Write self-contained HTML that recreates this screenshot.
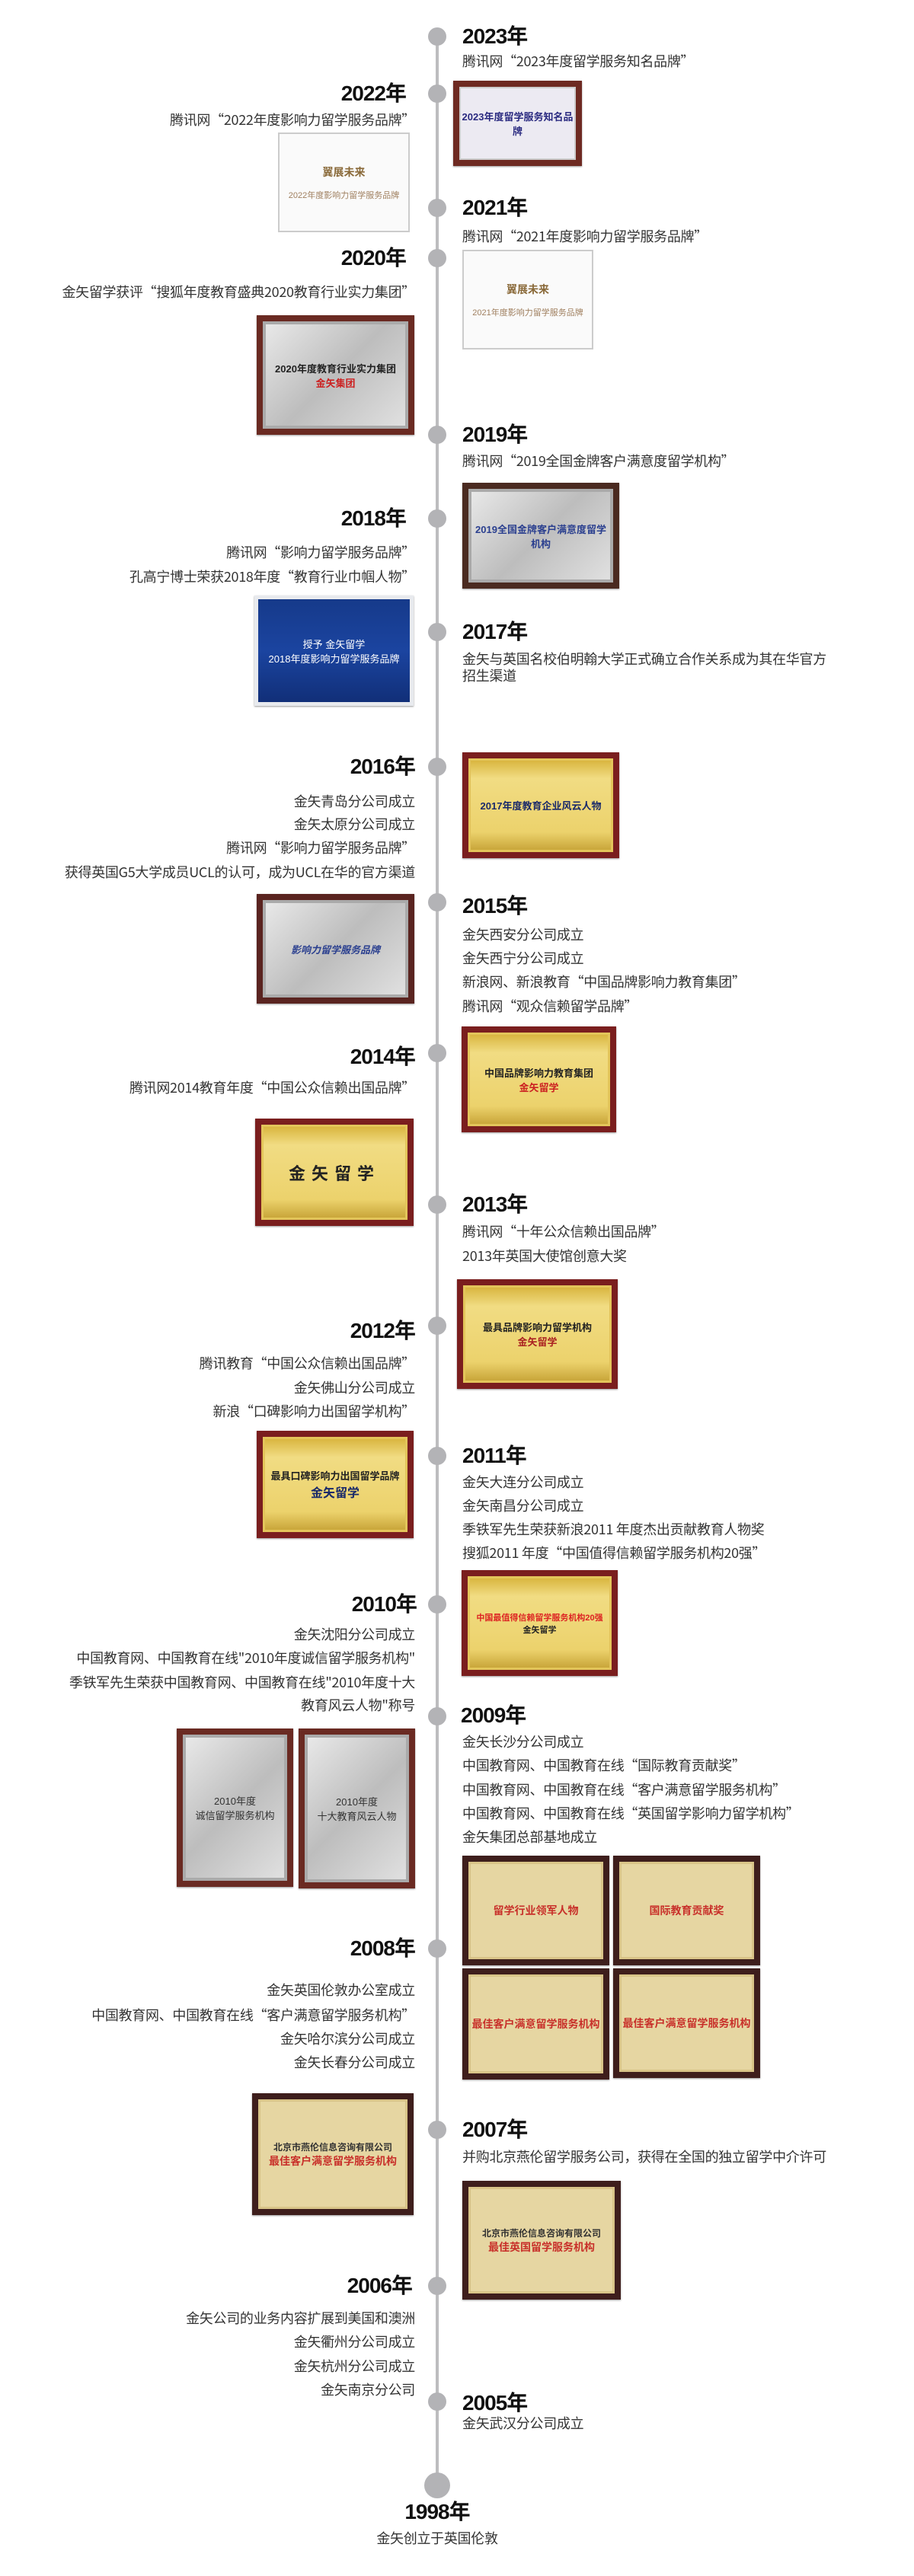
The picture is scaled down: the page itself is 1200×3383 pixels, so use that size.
<!DOCTYPE html>
<html><head><meta charset="utf-8"><style>
*{margin:0;padding:0;box-sizing:border-box}
body{width:1200px;height:3383px;background:#fff;position:relative;overflow:hidden;font-family:"Liberation Sans","Noto Sans CJK SC",sans-serif;}
.line{position:absolute;left:572px;top:48px;width:4px;height:3216px;background:#bdbdbf}
.dot{position:absolute;width:24px;height:24px;border-radius:50%;background:#b3b3b6;left:562px}
.y{position:absolute;font-size:28px;font-weight:bold;color:#111;line-height:32px;letter-spacing:-1px;white-space:nowrap}
.t{position:absolute;font-size:18px;color:#333;line-height:24px;white-space:nowrap;font-family:"Noto Sans CJK SC","Liberation Sans",sans-serif;letter-spacing:-0.3px}
.r{text-align:right}
.p{position:absolute;background:#5b2a22;padding:8px;box-shadow:0 1px 2px #999}
.p>div{width:100%;height:100%;display:flex;flex-direction:column;align-items:center;justify-content:center;font-weight:bold;font-size:13px;text-align:center}
.gold>div{background:linear-gradient(#d9b640,#f1dc83 20%,#ecd26c 80%,#c9a63a);color:#222;border:3px solid #e3c55a}
.silver>div{background:linear-gradient(135deg,#e8e8e8,#bdbdbd,#e0e0e0);color:#2a3f8f;border:4px solid #aaa}
.cert{position:absolute;background:#fafafa;border:2px solid #ccc;display:flex;flex-direction:column;align-items:center;justify-content:center;color:#a08060;font-size:11px}
.aw>div{background:#e6d6a2;color:#c8302a;font-size:14px;border:3px solid #d8c488}
</style></head><body>
<div class="line"></div>
<div class="dot" style="top:36px"></div>
<div class="dot" style="top:111px"></div>
<div class="dot" style="top:261px"></div>
<div class="dot" style="top:327px"></div>
<div class="dot" style="top:559px"></div>
<div class="dot" style="top:669px"></div>
<div class="dot" style="top:818px"></div>
<div class="dot" style="top:995px"></div>
<div class="dot" style="top:1173px"></div>
<div class="dot" style="top:1371px"></div>
<div class="dot" style="top:1570px"></div>
<div class="dot" style="top:1729px"></div>
<div class="dot" style="top:1900px"></div>
<div class="dot" style="top:2095px"></div>
<div class="dot" style="top:2242px"></div>
<div class="dot" style="top:2547px"></div>
<div class="dot" style="top:2785px"></div>
<div class="dot" style="top:2990px"></div>
<div class="dot" style="top:3142px"></div>
<div class="dot" style="top:3247px;left:557px;width:34px;height:34px"></div>

<div class="y" style="left:607px;top:32px">2023年</div>
<div class="t" style="left:607px;top:68px">腾讯网“2023年度留学服务知名品牌”</div>
<div class="p" style="left:595px;top:106px;width:169px;height:112px;background:#6e2a22"><div style="background:#eceaf2;color:#2a2a80;border:2px solid #ccc">2023年度留学服务知名品牌</div></div>

<div class="y r" style="right:667px;top:107px">2022年</div>
<div class="t r" style="right:655px;top:145px">腾讯网“2022年度影响力留学服务品牌”</div>
<div class="cert" style="left:365px;top:174px;width:173px;height:131px"><b style="font-size:14px;color:#8a6a3a">翼展未来</b><br>2022年度影响力留学服务品牌</div>

<div class="y" style="left:607px;top:257px">2021年</div>
<div class="t" style="left:607px;top:298px">腾讯网“2021年度影响力留学服务品牌”</div>
<div class="cert" style="left:607px;top:328px;width:172px;height:131px"><b style="font-size:14px;color:#8a6a3a">翼展未来</b><br>2021年度影响力留学服务品牌</div>

<div class="y r" style="right:667px;top:323px">2020年</div>
<div class="t r" style="right:655px;top:371px">金矢留学获评“搜狐年度教育盛典2020教育行业实力集团”</div>
<div class="p silver" style="left:337px;top:414px;width:207px;height:157px;background:#6a2a22"><div style="color:#222">2020年度教育行业实力集团<span style="color:#c22">金矢集团</span></div></div>

<div class="y" style="left:607px;top:555px">2019年</div>
<div class="t" style="left:607px;top:593px">腾讯网“2019全国金牌客户满意度留学机构”</div>
<div class="p silver" style="left:607px;top:634px;width:206px;height:139px;background:#4a2a20"><div>2019全国金牌客户满意度留学机构</div></div>

<div class="y r" style="right:667px;top:665px">2018年</div>
<div class="t r" style="right:655px;top:713px">腾讯网“影响力留学服务品牌”</div>
<div class="t r" style="right:655px;top:745px">孔高宁博士荣获2018年度“教育行业巾帼人物”</div>
<div class="p" style="left:334px;top:782px;width:209px;height:145px;background:#e8eaee;padding:5px"><div style="background:linear-gradient(#163a8a,#1b44a0 50%,#112f78);color:#fff;font-weight:normal">授予 金矢留学<br>2018年度影响力留学服务品牌</div></div>

<div class="y" style="left:607px;top:814px">2017年</div>
<div class="t" style="left:607px;top:853px">金矢与英国名校伯明翰大学正式确立合作关系成为其在华官方</div>
<div class="t" style="left:607px;top:875px">招生渠道</div>

<div class="y r" style="right:655px;top:991px">2016年</div>
<div class="p gold" style="left:607px;top:988px;width:206px;height:139px;background:#7a1e1e"><div style="color:#1a2a6a">2017年度教育企业风云人物</div></div>
<div class="t r" style="right:655px;top:1040px">金矢青岛分公司成立</div>
<div class="t r" style="right:655px;top:1070px">金矢太原分公司成立</div>
<div class="t r" style="right:655px;top:1101px">腾讯网“影响力留学服务品牌”</div>
<div class="t r" style="right:655px;top:1133px">获得英国G5大学成员UCL的认可，成为UCL在华的官方渠道</div>
<div class="p silver" style="left:337px;top:1174px;width:207px;height:144px;background:#5a2420"><div style="font-style:italic">影响力留学服务品牌</div></div>

<div class="y" style="left:607px;top:1174px">2015年</div>
<div class="t" style="left:607px;top:1215px">金矢西安分公司成立</div>
<div class="t" style="left:607px;top:1246px">金矢西宁分公司成立</div>
<div class="t" style="left:607px;top:1277px">新浪网、新浪教育“中国品牌影响力教育集团”</div>
<div class="t" style="left:607px;top:1309px">腾讯网“观众信赖留学品牌”</div>
<div class="p gold" style="left:606px;top:1348px;width:203px;height:139px;background:#7a1e1e"><div>中国品牌影响力教育集团<span style="color:#c22">金矢留学</span></div></div>

<div class="y r" style="right:655px;top:1372px">2014年</div>
<div class="t r" style="right:655px;top:1416px">腾讯网2014教育年度“中国公众信赖出国品牌”</div>
<div class="p gold" style="left:335px;top:1469px;width:208px;height:141px;background:#7a1e1e"><div style="font-size:22px;letter-spacing:8px">金矢留学</div></div>

<div class="y" style="left:607px;top:1566px">2013年</div>
<div class="t" style="left:607px;top:1605px">腾讯网“十年公众信赖出国品牌”</div>
<div class="t" style="left:607px;top:1637px">2013年英国大使馆创意大奖</div>
<div class="p gold" style="left:600px;top:1680px;width:211px;height:144px;background:#7a1e1e"><div>最具品牌影响力留学机构<span style="color:#a22">金矢留学</span></div></div>

<div class="y r" style="right:655px;top:1732px">2012年</div>
<div class="t r" style="right:655px;top:1778px">腾讯教育“中国公众信赖出国品牌”</div>
<div class="t r" style="right:655px;top:1810px">金矢佛山分公司成立</div>
<div class="t r" style="right:655px;top:1841px">新浪“口碑影响力出国留学机构”</div>
<div class="p gold" style="left:337px;top:1879px;width:206px;height:141px;background:#7a1e1e"><div>最具口碑影响力出国留学品牌<span style="color:#1a2a6a;font-size:16px">金矢留学</span></div></div>

<div class="y" style="left:607px;top:1896px">2011年</div>
<div class="t" style="left:607px;top:1934px">金矢大连分公司成立</div>
<div class="t" style="left:607px;top:1965px">金矢南昌分公司成立</div>
<div class="t" style="left:607px;top:1996px">季铁军先生荣获新浪2011 年度杰出贡献教育人物奖</div>
<div class="t" style="left:607px;top:2027px">搜狐2011 年度“中国值得信赖留学服务机构20强”</div>
<div class="p gold" style="left:606px;top:2062px;width:205px;height:139px;background:#7a1e1e"><div style="font-size:11px;color:#d22">中国最值得信赖留学服务机构20强<span style="color:#222">金矢留学</span></div></div>

<div class="y r" style="right:653px;top:2091px">2010年</div>
<div class="t r" style="right:655px;top:2134px">金矢沈阳分公司成立</div>
<div class="t r" style="right:655px;top:2165px">中国教育网、中国教育在线"2010年度诚信留学服务机构"</div>
<div class="t r" style="right:655px;top:2197px">季铁军先生荣获中国教育网、中国教育在线"2010年度十大</div>
<div class="t r" style="right:655px;top:2227px">教育风云人物"称号</div>
<div class="p silver" style="left:232px;top:2270px;width:153px;height:208px;background:#6a2a22"><div style="color:#333;font-weight:normal">2010年度<br>诚信留学服务机构</div></div>
<div class="p silver" style="left:392px;top:2270px;width:153px;height:210px;background:#6a2a22"><div style="color:#333;font-weight:normal">2010年度<br>十大教育风云人物</div></div>

<div class="y" style="left:605px;top:2237px">2009年</div>
<div class="t" style="left:607px;top:2275px">金矢长沙分公司成立</div>
<div class="t" style="left:607px;top:2306px">中国教育网、中国教育在线“国际教育贡献奖”</div>
<div class="t" style="left:607px;top:2338px">中国教育网、中国教育在线“客户满意留学服务机构”</div>
<div class="t" style="left:607px;top:2369px">中国教育网、中国教育在线“英国留学影响力留学机构”</div>
<div class="t" style="left:607px;top:2400px">金矢集团总部基地成立</div>
<div class="p aw" style="left:607px;top:2437px;width:193px;height:144px;background:#3e1e1c"><div>留学行业领军人物</div></div>
<div class="p aw" style="left:805px;top:2437px;width:193px;height:144px;background:#3e1e1c"><div>国际教育贡献奖</div></div>
<div class="p aw" style="left:607px;top:2585px;width:193px;height:146px;background:#3e1e1c"><div>最佳客户满意留学服务机构</div></div>
<div class="p aw" style="left:805px;top:2585px;width:193px;height:144px;background:#3e1e1c"><div>最佳客户满意留学服务机构</div></div>

<div class="y r" style="right:655px;top:2543px">2008年</div>
<div class="t r" style="right:655px;top:2601px">金矢英国伦敦办公室成立</div>
<div class="t r" style="right:655px;top:2634px">中国教育网、中国教育在线“客户满意留学服务机构”</div>
<div class="t r" style="right:655px;top:2665px">金矢哈尔滨分公司成立</div>
<div class="t r" style="right:655px;top:2696px">金矢长春分公司成立</div>
<div class="p aw" style="left:331px;top:2749px;width:212px;height:160px;background:#3e1e1c"><div><span style="color:#333;font-size:12px">北京市燕伦信息咨询有限公司</span>最佳客户满意留学服务机构</div></div>

<div class="y" style="left:607px;top:2781px">2007年</div>
<div class="t" style="left:607px;top:2820px">并购北京燕伦留学服务公司，获得在全国的独立留学中介许可</div>
<div class="p aw" style="left:607px;top:2864px;width:208px;height:156px;background:#3e1e1c"><div><span style="color:#333;font-size:12px">北京市燕伦信息咨询有限公司</span>最佳英国留学服务机构</div></div>

<div class="y r" style="right:659px;top:2986px">2006年</div>
<div class="t r" style="right:655px;top:3032px">金矢公司的业务内容扩展到美国和澳洲</div>
<div class="t r" style="right:655px;top:3063px">金矢衢州分公司成立</div>
<div class="t r" style="right:655px;top:3095px">金矢杭州分公司成立</div>
<div class="t r" style="right:655px;top:3126px">金矢南京分公司</div>

<div class="y" style="left:607px;top:3140px">2005年</div>
<div class="t" style="left:607px;top:3170px">金矢武汉分公司成立</div>

<div class="y" style="left:374px;width:400px;text-align:center;top:3283px">1998年</div>
<div class="t" style="left:374px;width:400px;text-align:center;top:3321px">金矢创立于英国伦敦</div>
</body></html>
